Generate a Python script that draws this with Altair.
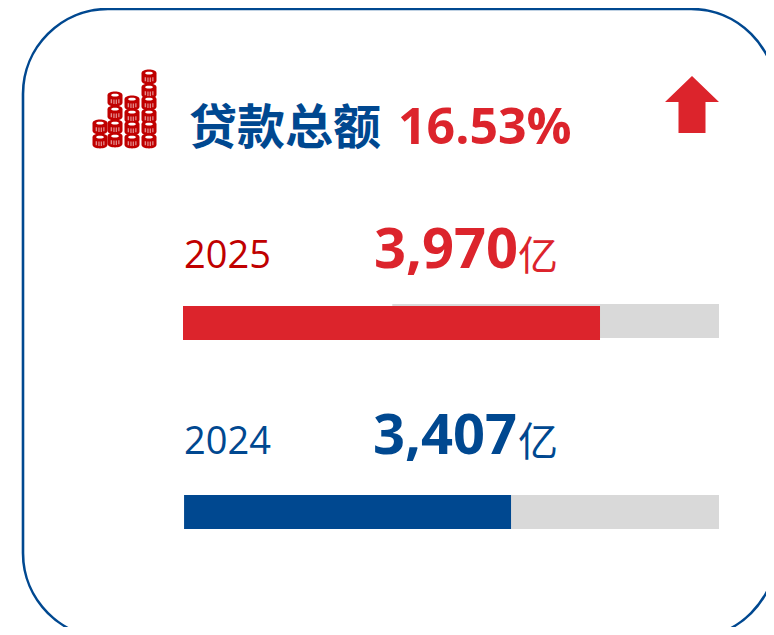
import altair as alt
import pandas as pd

OFF = 8
RED, DARKRED, BLUE, GRAY = "#dc242c", "#c00000", "#004890", "#d9d9d9"

title_label = "贷款总额"
growth_label = "16.53%"
years = ["2025", "2024"]
amounts = ["3,970", "3,407"]
unit = "亿"
# bar lengths read as % of the track
bar_start = [0, 0.2]
bar_end = [77.8, 61.2]
track_start = [39.05, 0.2]
track_end = [100, 100]

coin_x = [100] * 2 + [115] * 4 + [132] * 4 + [149] * 6
coin_y = [141, 127, 140, 127, 113, 99, 141, 128, 116, 103, 141, 128, 116, 103, 91, 77]


def px(v):
    return v - OFF


def label(text, x, y, size, color, weight="normal", font="Open Sans"):
    return (
        alt.Chart(pd.DataFrame({"t": [text]}))
        .mark_text(align="left", baseline="alphabetic", font=font, fontSize=size, fontWeight=weight, color=color)
        .encode(x=alt.value(px(x)), y=alt.value(px(y)), text="t:N")
    )


def bar(start, end, top, bottom, color):
    return (
        alt.Chart(pd.DataFrame({"a": [start], "b": [end]}))
        .mark_rect(color=color)
        .encode(
            x=alt.X("a:Q", scale=alt.Scale(domain=[0, 100], range=[175, 711]), axis=None),
            x2="b:Q",
            y=alt.value(px(top)),
            y2=alt.value(px(bottom)),
        )
    )


frame = (
    alt.Chart(pd.DataFrame({"a": [0]}))
    .mark_rect(fill="white", stroke=BLUE, strokeWidth=2.6, cornerRadius=85)
    .encode(x=alt.value(px(23)), x2=alt.value(px(776)), y=alt.value(px(9)), y2=alt.value(px(638)))
)

coins = pd.DataFrame({"x": [px(v) for v in coin_x], "y": [px(v) for v in coin_y]})
cx = alt.X("x:Q", scale=None, axis=None)
cy = alt.Y("y:Q", scale=None, axis=None)
coin_body = alt.Chart(coins).mark_point(
    filled=True, opacity=1, color=DARKRED, size=225,
    shape="M-1,-.5C-1,-1.15 1,-1.15 1,-.5L1,.5C1,1.15 -1,1.15 -1,.5Z",
).encode(x=cx, y=cy)
coin_top = alt.Chart(coins).mark_point(
    filled=True, opacity=1, color="white", size=196,
    shape="M-.55,-.55C-.55,-.8 .55,-.8 .55,-.55C.55,-.3 -.55,-.3 -.55,-.55Z",
).encode(x=cx, y=cy)
coin_ticks = alt.Chart(coins).mark_point(
    filled=True, opacity=0.55, color="white", size=196,
    shape="M-.62,.02H-.42V.62H-.62ZM-.24,.08H-.06V.72H-.24ZM.1,.08H.28V.72H.1ZM.46,.02H.64V.62H.46Z",
).encode(x=cx, y=cy)

arrow = alt.Chart(pd.DataFrame({"x": [px(692)], "y": [px(104.5)]})).mark_point(
    filled=True, opacity=1, color=RED, size=2916,
    shape="M0,-1.056L1,-.093H.5V1.056H-.5V-.093H-1Z",
).encode(x=cx, y=cy)

layers = [
    frame,
    coin_body, coin_top, coin_ticks,
    arrow,
    label(title_label, 189, 144, 48, BLUE, "bold", "Noto Sans CJK SC"),
    label(growth_label, 398, 144, 50, RED, "bold"),
    label(years[0], 184, 268, 38, DARKRED),
    label(amounts[0], 374, 268, 56, RED, "bold"),
    label(unit, 518, 270, 40, RED, "normal", "Noto Sans CJK SC"),
    bar(track_start[0], track_end[0], 304, 338, GRAY),
    bar(bar_start[0], bar_end[0], 306, 340, RED),
    label(years[1], 184, 454, 38, BLUE),
    label(amounts[1], 373, 454, 56, BLUE, "bold"),
    label(unit, 518, 456, 40, BLUE, "normal", "Noto Sans CJK SC"),
    bar(track_start[1], track_end[1], 495, 529, GRAY),
    bar(bar_start[1], bar_end[1], 495, 529, BLUE),
]

chart = (
    alt.layer(*layers)
    .resolve_scale(x="independent", y="independent")
    .properties(width=758, height=619, padding=0, autosize=alt.AutoSizeParams(type="none"), background="white")
    .configure_view(stroke=None)
)

chart.save("out.html", embed_options={"renderer": "svg", "actions": False})
